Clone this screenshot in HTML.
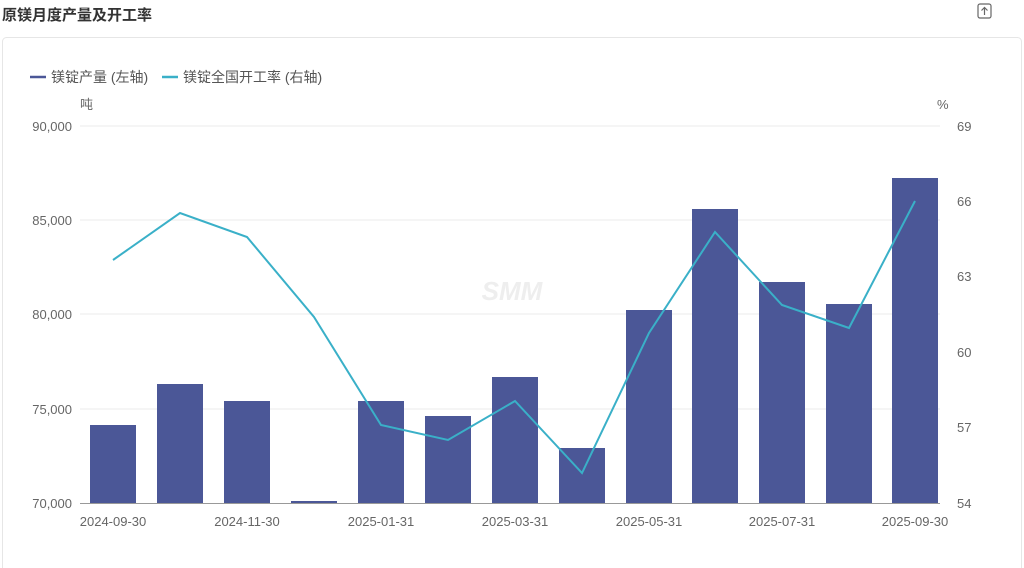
<!DOCTYPE html>
<html><head><meta charset="utf-8"><style>
html,body{margin:0;padding:0;background:#fff;width:1024px;height:568px;overflow:hidden;font-family:"Liberation Sans","Noto Sans CJK SC",sans-serif;}
</style></head><body>
<svg width="1024" height="568" xmlns="http://www.w3.org/2000/svg" style="position:absolute;left:0;top:0;font-family:'Liberation Sans','Noto Sans CJK SC',sans-serif">
<text x="2" y="20" font-size="15" font-weight="bold" fill="#333">原镁月度产量及开工率</text>
<rect x="978" y="4" width="13" height="14" rx="2" fill="none" stroke="#666" stroke-width="1.2"/>
<path d="M984.5 15 V8 M981.5 10.5 L984.5 7.5 L987.5 10.5" stroke="#666" stroke-width="1.2" fill="none"/>
<rect x="2.5" y="37.5" width="1019" height="540" rx="4" fill="none" stroke="#e6e6e6"/>
<line x1="30" y1="77" x2="46" y2="77" stroke="#4b5797" stroke-width="2.5"/>
<text x="51" y="82" font-size="14" fill="#555">镁锭产量 (左轴)</text>
<line x1="162" y1="77" x2="178" y2="77" stroke="#3ab0c8" stroke-width="2.5"/>
<text x="183" y="82" font-size="14" fill="#555">镁锭全国开工率 (右轴)</text>
<text x="80" y="109" font-size="13" fill="#666">吨</text>
<text x="937" y="109" font-size="13" fill="#666">%</text>
<g stroke="#ebebeb" stroke-width="1">
<line x1="80" y1="126" x2="940" y2="126"/><line x1="80" y1="220" x2="940" y2="220"/>
<line x1="80" y1="314" x2="940" y2="314"/><line x1="80" y1="409" x2="940" y2="409"/>
</g>
<g font-size="13" fill="#666" text-anchor="end">
<text x="72" y="131">90,000</text><text x="72" y="225">85,000</text><text x="72" y="319">80,000</text><text x="72" y="414">75,000</text><text x="72" y="508">70,000</text>
</g>
<g font-size="13" fill="#666">
<text x="957" y="131">69</text><text x="957" y="206">66</text><text x="957" y="281">63</text><text x="957" y="357">60</text><text x="957" y="432">57</text><text x="957" y="508">54</text>
</g>
<text x="512" y="300" font-size="26" font-weight="bold" fill="#eee" text-anchor="middle" font-style="italic">SMM</text>
<g fill="#4b5797">
<rect x="90" y="425" width="46" height="78"/>
<rect x="157" y="384" width="46" height="119"/>
<rect x="224" y="401" width="46" height="102"/>
<rect x="291" y="501" width="46" height="2"/>
<rect x="358" y="401" width="46" height="102"/>
<rect x="425" y="416" width="46" height="87"/>
<rect x="492" y="377" width="46" height="126"/>
<rect x="559" y="448" width="46" height="55"/>
<rect x="626" y="310" width="46" height="193"/>
<rect x="692" y="209" width="46" height="294"/>
<rect x="759" y="282" width="46" height="221"/>
<rect x="826" y="304" width="46" height="199"/>
<rect x="892" y="178" width="46" height="325"/>
</g>
<line x1="80" y1="503.5" x2="940" y2="503.5" stroke="#999"/>
<polyline fill="none" stroke="#3ab0c8" stroke-width="2" points="113,260 180,213 247,237 314,317 381,425 448,440 515,401 582,473 649,333 715,232 782,305 849,328 915,201"/>
<g font-size="13" fill="#666" text-anchor="middle">
<text x="113" y="526">2024-09-30</text><text x="247" y="526">2024-11-30</text><text x="381" y="526">2025-01-31</text><text x="515" y="526">2025-03-31</text><text x="649" y="526">2025-05-31</text><text x="782" y="526">2025-07-31</text><text x="915" y="526">2025-09-30</text>
</g>
</svg>
</body></html>
